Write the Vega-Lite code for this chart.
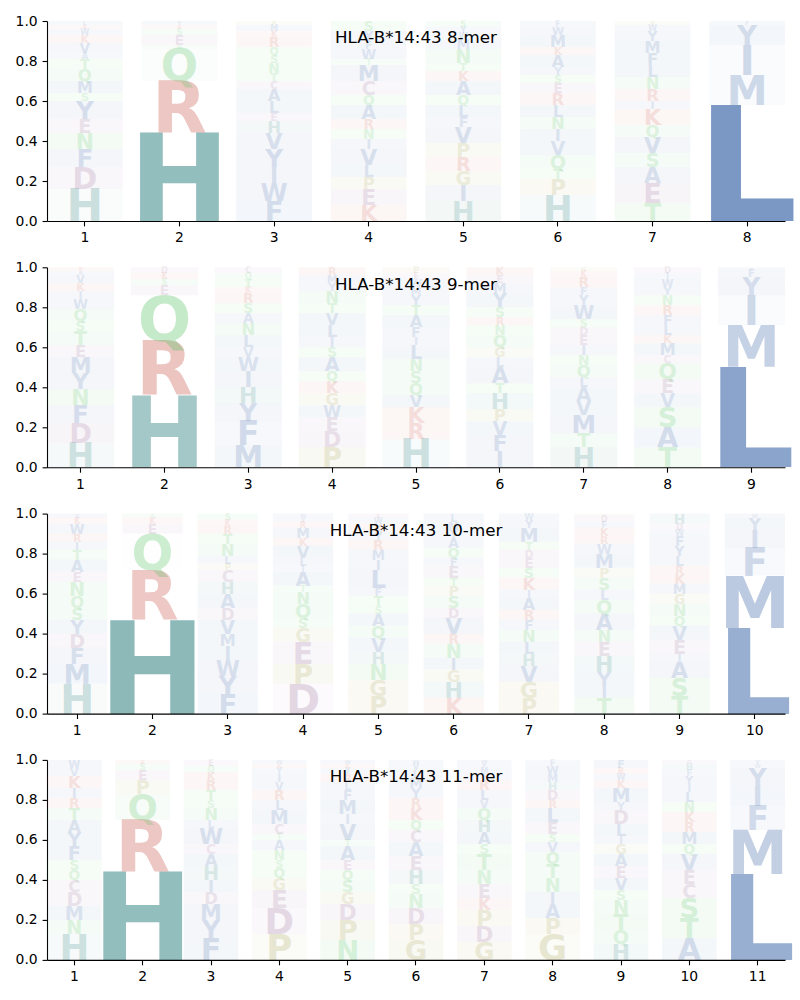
{
"$schema": "https://vega.github.io/schema/vega-lite/v6.json",
"autosize": {"type": "pad"},
"padding": {"left": 15, "top": 14, "right": 12, "bottom": 5},
"bounds": "flush",
"spacing": 46.3,
"config": {
  "view": {"stroke": null},
  "font": "DejaVu Sans",
  "title": {"fontSize": 16.7, "fontWeight": "normal", "font": "DejaVu Sans", "color": "black", "offset": -33, "anchor": "middle", "frame": "group"},
  "axis": {"domainColor": "black", "domainWidth": 1.1, "tickColor": "black", "tickWidth": 1.1, "tickSize": 4.9, "labelPadding": 4.9, "labelFontSize": 13.9, "labelFont": "DejaVu Sans", "labelColor": "black", "grid": false, "title": null}
},
"data": {"values": [
{"mer":8,"pos":1,"aa":"H","p":0.16},{"mer":8,"pos":1,"aa":"D","p":0.11},{"mer":8,"pos":1,"aa":"F","p":0.09},{"mer":8,"pos":1,"aa":"N","p":0.08},{"mer":8,"pos":1,"aa":"E","p":0.07},{"mer":8,"pos":1,"aa":"Y","p":0.09},{"mer":8,"pos":1,"aa":"S","p":0.04},{"mer":8,"pos":1,"aa":"M","p":0.06},{"mer":8,"pos":1,"aa":"Q","p":0.06},{"mer":8,"pos":1,"aa":"T","p":0.05},{"mer":8,"pos":1,"aa":"A","p":0.03},{"mer":8,"pos":1,"aa":"V","p":0.05},{"mer":8,"pos":1,"aa":"K","p":0.04},{"mer":8,"pos":1,"aa":"W","p":0.03},{"mer":8,"pos":1,"aa":"R","p":0.02},{"mer":8,"pos":1,"aa":"L","p":0.02},
{"mer":8,"pos":2,"aa":"H","p":0.44},{"mer":8,"pos":2,"aa":"R","p":0.26},{"mer":8,"pos":2,"aa":"Q","p":0.16},{"mer":8,"pos":2,"aa":"N","p":0.02},{"mer":8,"pos":2,"aa":"E","p":0.05},{"mer":8,"pos":2,"aa":"S","p":0.03},{"mer":8,"pos":2,"aa":"K","p":0.02},{"mer":8,"pos":2,"aa":"Y","p":0.02},
{"mer":8,"pos":3,"aa":"F","p":0.10},{"mer":8,"pos":3,"aa":"W","p":0.09},{"mer":8,"pos":3,"aa":"I","p":0.08},{"mer":8,"pos":3,"aa":"Y","p":0.09},{"mer":8,"pos":3,"aa":"V","p":0.08},{"mer":8,"pos":3,"aa":"H","p":0.06},{"mer":8,"pos":3,"aa":"E","p":0.04},{"mer":8,"pos":3,"aa":"L","p":0.06},{"mer":8,"pos":3,"aa":"A","p":0.06},{"mer":8,"pos":3,"aa":"C","p":0.04},{"mer":8,"pos":3,"aa":"T","p":0.04},{"mer":8,"pos":3,"aa":"N","p":0.05},{"mer":8,"pos":3,"aa":"S","p":0.04},{"mer":8,"pos":3,"aa":"Q","p":0.04},{"mer":8,"pos":3,"aa":"R","p":0.05},{"mer":8,"pos":3,"aa":"K","p":0.03},{"mer":8,"pos":3,"aa":"M","p":0.03},{"mer":8,"pos":3,"aa":"P","p":0.02},
{"mer":8,"pos":4,"aa":"K","p":0.08},{"mer":8,"pos":4,"aa":"E","p":0.08},{"mer":8,"pos":4,"aa":"P","p":0.06},{"mer":8,"pos":4,"aa":"L","p":0.06},{"mer":8,"pos":4,"aa":"V","p":0.08},{"mer":8,"pos":4,"aa":"I","p":0.05},{"mer":8,"pos":4,"aa":"N","p":0.05},{"mer":8,"pos":4,"aa":"R","p":0.05},{"mer":8,"pos":4,"aa":"A","p":0.07},{"mer":8,"pos":4,"aa":"Q","p":0.05},{"mer":8,"pos":4,"aa":"C","p":0.07},{"mer":8,"pos":4,"aa":"M","p":0.08},{"mer":8,"pos":4,"aa":"T","p":0.03},{"mer":8,"pos":4,"aa":"W","p":0.05},{"mer":8,"pos":4,"aa":"F","p":0.04},{"mer":8,"pos":4,"aa":"Y","p":0.05},{"mer":8,"pos":4,"aa":"S","p":0.05},
{"mer":8,"pos":5,"aa":"H","p":0.10},{"mer":8,"pos":5,"aa":"I","p":0.08},{"mer":8,"pos":5,"aa":"G","p":0.07},{"mer":8,"pos":5,"aa":"R","p":0.07},{"mer":8,"pos":5,"aa":"P","p":0.07},{"mer":8,"pos":5,"aa":"V","p":0.08},{"mer":8,"pos":5,"aa":"F","p":0.05},{"mer":8,"pos":5,"aa":"L","p":0.06},{"mer":8,"pos":5,"aa":"Q","p":0.05},{"mer":8,"pos":5,"aa":"A","p":0.07},{"mer":8,"pos":5,"aa":"K","p":0.05},{"mer":8,"pos":5,"aa":"T","p":0.04},{"mer":8,"pos":5,"aa":"N","p":0.07},{"mer":8,"pos":5,"aa":"M","p":0.05},{"mer":8,"pos":5,"aa":"W","p":0.03},{"mer":8,"pos":5,"aa":"Y","p":0.03},{"mer":8,"pos":5,"aa":"S","p":0.03},
{"mer":8,"pos":6,"aa":"H","p":0.13},{"mer":8,"pos":6,"aa":"P","p":0.08},{"mer":8,"pos":6,"aa":"T","p":0.05},{"mer":8,"pos":6,"aa":"Q","p":0.07},{"mer":8,"pos":6,"aa":"V","p":0.07},{"mer":8,"pos":6,"aa":"I","p":0.06},{"mer":8,"pos":6,"aa":"N","p":0.06},{"mer":8,"pos":6,"aa":"L","p":0.06},{"mer":8,"pos":6,"aa":"R","p":0.06},{"mer":8,"pos":6,"aa":"E","p":0.05},{"mer":8,"pos":6,"aa":"S","p":0.04},{"mer":8,"pos":6,"aa":"Y","p":0.04},{"mer":8,"pos":6,"aa":"A","p":0.06},{"mer":8,"pos":6,"aa":"K","p":0.04},{"mer":8,"pos":6,"aa":"M","p":0.06},{"mer":8,"pos":6,"aa":"W","p":0.04},{"mer":8,"pos":6,"aa":"F","p":0.03},
{"mer":8,"pos":7,"aa":"T","p":0.09},{"mer":8,"pos":7,"aa":"E","p":0.10},{"mer":8,"pos":7,"aa":"A","p":0.08},{"mer":8,"pos":7,"aa":"S","p":0.07},{"mer":8,"pos":7,"aa":"V","p":0.08},{"mer":8,"pos":7,"aa":"Q","p":0.06},{"mer":8,"pos":7,"aa":"K","p":0.08},{"mer":8,"pos":7,"aa":"I","p":0.04},{"mer":8,"pos":7,"aa":"R","p":0.06},{"mer":8,"pos":7,"aa":"N","p":0.06},{"mer":8,"pos":7,"aa":"L","p":0.06},{"mer":8,"pos":7,"aa":"F","p":0.06},{"mer":8,"pos":7,"aa":"M","p":0.06},{"mer":8,"pos":7,"aa":"Y","p":0.05},{"mer":8,"pos":7,"aa":"W","p":0.03},{"mer":8,"pos":7,"aa":"P","p":0.02},
{"mer":8,"pos":8,"aa":"L","p":0.58},{"mer":8,"pos":8,"aa":"M","p":0.15},{"mer":8,"pos":8,"aa":"I","p":0.15},{"mer":8,"pos":8,"aa":"Y","p":0.10},{"mer":8,"pos":8,"aa":"F","p":0.02},

{"mer":9,"pos":1,"aa":"H","p":0.12},{"mer":9,"pos":1,"aa":"D","p":0.10},{"mer":9,"pos":1,"aa":"F","p":0.09},{"mer":9,"pos":1,"aa":"N","p":0.08},{"mer":9,"pos":1,"aa":"Y","p":0.08},{"mer":9,"pos":1,"aa":"M","p":0.08},{"mer":9,"pos":1,"aa":"E","p":0.06},{"mer":9,"pos":1,"aa":"T","p":0.07},{"mer":9,"pos":1,"aa":"S","p":0.05},{"mer":9,"pos":1,"aa":"Q","p":0.06},{"mer":9,"pos":1,"aa":"W","p":0.05},{"mer":9,"pos":1,"aa":"I","p":0.04},{"mer":9,"pos":1,"aa":"K","p":0.04},{"mer":9,"pos":1,"aa":"V","p":0.04},{"mer":9,"pos":1,"aa":"A","p":0.02},{"mer":9,"pos":1,"aa":"R","p":0.02},
{"mer":9,"pos":2,"aa":"H","p":0.36},{"mer":9,"pos":2,"aa":"R","p":0.27},{"mer":9,"pos":2,"aa":"Q","p":0.23},{"mer":9,"pos":2,"aa":"E","p":0.05},{"mer":9,"pos":2,"aa":"S","p":0.03},{"mer":9,"pos":2,"aa":"K","p":0.03},{"mer":9,"pos":2,"aa":"D","p":0.03},
{"mer":9,"pos":3,"aa":"M","p":0.11},{"mer":9,"pos":3,"aa":"F","p":0.12},{"mer":9,"pos":3,"aa":"Y","p":0.09},{"mer":9,"pos":3,"aa":"H","p":0.08},{"mer":9,"pos":3,"aa":"I","p":0.08},{"mer":9,"pos":3,"aa":"W","p":0.07},{"mer":9,"pos":3,"aa":"V","p":0.05},{"mer":9,"pos":3,"aa":"L","p":0.06},{"mer":9,"pos":3,"aa":"N","p":0.06},{"mer":9,"pos":3,"aa":"A","p":0.05},{"mer":9,"pos":3,"aa":"S","p":0.05},{"mer":9,"pos":3,"aa":"R","p":0.05},{"mer":9,"pos":3,"aa":"K","p":0.03},{"mer":9,"pos":3,"aa":"T","p":0.04},{"mer":9,"pos":3,"aa":"Q","p":0.03},{"mer":9,"pos":3,"aa":"C","p":0.03},
{"mer":9,"pos":4,"aa":"P","p":0.10},{"mer":9,"pos":4,"aa":"D","p":0.08},{"mer":9,"pos":4,"aa":"E","p":0.07},{"mer":9,"pos":4,"aa":"W","p":0.06},{"mer":9,"pos":4,"aa":"G","p":0.06},{"mer":9,"pos":4,"aa":"K","p":0.06},{"mer":9,"pos":4,"aa":"Q","p":0.05},{"mer":9,"pos":4,"aa":"A","p":0.07},{"mer":9,"pos":4,"aa":"S","p":0.05},{"mer":9,"pos":4,"aa":"I","p":0.05},{"mer":9,"pos":4,"aa":"L","p":0.06},{"mer":9,"pos":4,"aa":"V","p":0.06},{"mer":9,"pos":4,"aa":"T","p":0.05},{"mer":9,"pos":4,"aa":"N","p":0.06},{"mer":9,"pos":4,"aa":"Y","p":0.04},{"mer":9,"pos":4,"aa":"M","p":0.04},{"mer":9,"pos":4,"aa":"R","p":0.04},
{"mer":9,"pos":5,"aa":"H","p":0.14},{"mer":9,"pos":5,"aa":"R","p":0.08},{"mer":9,"pos":5,"aa":"K","p":0.08},{"mer":9,"pos":5,"aa":"V","p":0.06},{"mer":9,"pos":5,"aa":"Q","p":0.06},{"mer":9,"pos":5,"aa":"S","p":0.06},{"mer":9,"pos":5,"aa":"N","p":0.06},{"mer":9,"pos":5,"aa":"L","p":0.07},{"mer":9,"pos":5,"aa":"I","p":0.04},{"mer":9,"pos":5,"aa":"F","p":0.05},{"mer":9,"pos":5,"aa":"A","p":0.06},{"mer":9,"pos":5,"aa":"T","p":0.05},{"mer":9,"pos":5,"aa":"Y","p":0.05},{"mer":9,"pos":5,"aa":"M","p":0.04},{"mer":9,"pos":5,"aa":"W","p":0.04},{"mer":9,"pos":5,"aa":"E","p":0.03},{"mer":9,"pos":5,"aa":"P","p":0.03},
{"mer":9,"pos":6,"aa":"I","p":0.08},{"mer":9,"pos":6,"aa":"F","p":0.08},{"mer":9,"pos":6,"aa":"V","p":0.07},{"mer":9,"pos":6,"aa":"P","p":0.06},{"mer":9,"pos":6,"aa":"H","p":0.08},{"mer":9,"pos":6,"aa":"T","p":0.05},{"mer":9,"pos":6,"aa":"A","p":0.08},{"mer":9,"pos":6,"aa":"L","p":0.05},{"mer":9,"pos":6,"aa":"G","p":0.05},{"mer":9,"pos":6,"aa":"Q","p":0.06},{"mer":9,"pos":6,"aa":"N","p":0.05},{"mer":9,"pos":6,"aa":"R","p":0.04},{"mer":9,"pos":6,"aa":"S","p":0.05},{"mer":9,"pos":6,"aa":"Y","p":0.07},{"mer":9,"pos":6,"aa":"M","p":0.05},{"mer":9,"pos":6,"aa":"E","p":0.04},{"mer":9,"pos":6,"aa":"K","p":0.04},
{"mer":9,"pos":7,"aa":"H","p":0.10},{"mer":9,"pos":7,"aa":"T","p":0.07},{"mer":9,"pos":7,"aa":"M","p":0.09},{"mer":9,"pos":7,"aa":"V","p":0.07},{"mer":9,"pos":7,"aa":"A","p":0.07},{"mer":9,"pos":7,"aa":"L","p":0.05},{"mer":9,"pos":7,"aa":"Q","p":0.06},{"mer":9,"pos":7,"aa":"N","p":0.05},{"mer":9,"pos":7,"aa":"I","p":0.05},{"mer":9,"pos":7,"aa":"E","p":0.05},{"mer":9,"pos":7,"aa":"D","p":0.04},{"mer":9,"pos":7,"aa":"S","p":0.04},{"mer":9,"pos":7,"aa":"W","p":0.07},{"mer":9,"pos":7,"aa":"Y","p":0.05},{"mer":9,"pos":7,"aa":"F","p":0.04},{"mer":9,"pos":7,"aa":"R","p":0.05},{"mer":9,"pos":7,"aa":"K","p":0.03},{"mer":9,"pos":7,"aa":"G","p":0.02},
{"mer":9,"pos":8,"aa":"T","p":0.10},{"mer":9,"pos":8,"aa":"A","p":0.10},{"mer":9,"pos":8,"aa":"S","p":0.10},{"mer":9,"pos":8,"aa":"V","p":0.07},{"mer":9,"pos":8,"aa":"E","p":0.07},{"mer":9,"pos":8,"aa":"Q","p":0.08},{"mer":9,"pos":8,"aa":"C","p":0.04},{"mer":9,"pos":8,"aa":"M","p":0.06},{"mer":9,"pos":8,"aa":"K","p":0.04},{"mer":9,"pos":8,"aa":"L","p":0.05},{"mer":9,"pos":8,"aa":"F","p":0.05},{"mer":9,"pos":8,"aa":"R","p":0.05},{"mer":9,"pos":8,"aa":"N","p":0.05},{"mer":9,"pos":8,"aa":"Y","p":0.04},{"mer":9,"pos":8,"aa":"W","p":0.04},{"mer":9,"pos":8,"aa":"I","p":0.03},{"mer":9,"pos":8,"aa":"D","p":0.03},
{"mer":9,"pos":9,"aa":"L","p":0.50},{"mer":9,"pos":9,"aa":"M","p":0.21},{"mer":9,"pos":9,"aa":"I","p":0.15},{"mer":9,"pos":9,"aa":"Y","p":0.09},{"mer":9,"pos":9,"aa":"F","p":0.04},{"mer":9,"pos":9,"aa":"W","p":0.01},

{"mer":10,"pos":1,"aa":"H","p":0.15},{"mer":10,"pos":1,"aa":"M","p":0.10},{"mer":10,"pos":1,"aa":"F","p":0.08},{"mer":10,"pos":1,"aa":"D","p":0.07},{"mer":10,"pos":1,"aa":"Y","p":0.07},{"mer":10,"pos":1,"aa":"S","p":0.06},{"mer":10,"pos":1,"aa":"Q","p":0.06},{"mer":10,"pos":1,"aa":"N","p":0.07},{"mer":10,"pos":1,"aa":"E","p":0.05},{"mer":10,"pos":1,"aa":"A","p":0.06},{"mer":10,"pos":1,"aa":"T","p":0.05},{"mer":10,"pos":1,"aa":"I","p":0.04},{"mer":10,"pos":1,"aa":"R","p":0.04},{"mer":10,"pos":1,"aa":"W","p":0.05},{"mer":10,"pos":1,"aa":"K","p":0.03},{"mer":10,"pos":1,"aa":"V","p":0.02},
{"mer":10,"pos":2,"aa":"H","p":0.47},{"mer":10,"pos":2,"aa":"R","p":0.25},{"mer":10,"pos":2,"aa":"Q","p":0.18},{"mer":10,"pos":2,"aa":"E","p":0.05},{"mer":10,"pos":2,"aa":"K","p":0.03},{"mer":10,"pos":2,"aa":"S","p":0.02},
{"mer":10,"pos":3,"aa":"F","p":0.10},{"mer":10,"pos":3,"aa":"Y","p":0.09},{"mer":10,"pos":3,"aa":"W","p":0.08},{"mer":10,"pos":3,"aa":"I","p":0.07},{"mer":10,"pos":3,"aa":"M","p":0.06},{"mer":10,"pos":3,"aa":"V","p":0.07},{"mer":10,"pos":3,"aa":"D","p":0.06},{"mer":10,"pos":3,"aa":"A","p":0.07},{"mer":10,"pos":3,"aa":"H","p":0.06},{"mer":10,"pos":3,"aa":"C","p":0.06},{"mer":10,"pos":3,"aa":"P","p":0.03},{"mer":10,"pos":3,"aa":"L","p":0.04},{"mer":10,"pos":3,"aa":"N","p":0.06},{"mer":10,"pos":3,"aa":"T","p":0.05},{"mer":10,"pos":3,"aa":"R","p":0.04},{"mer":10,"pos":3,"aa":"K","p":0.03},{"mer":10,"pos":3,"aa":"S","p":0.03},
{"mer":10,"pos":4,"aa":"D","p":0.15},{"mer":10,"pos":4,"aa":"P","p":0.10},{"mer":10,"pos":4,"aa":"E","p":0.11},{"mer":10,"pos":4,"aa":"G","p":0.07},{"mer":10,"pos":4,"aa":"S","p":0.05},{"mer":10,"pos":4,"aa":"Q","p":0.07},{"mer":10,"pos":4,"aa":"N","p":0.06},{"mer":10,"pos":4,"aa":"T","p":0.03},{"mer":10,"pos":4,"aa":"A","p":0.07},{"mer":10,"pos":4,"aa":"I","p":0.03},{"mer":10,"pos":4,"aa":"L","p":0.04},{"mer":10,"pos":4,"aa":"V","p":0.06},{"mer":10,"pos":4,"aa":"K","p":0.04},{"mer":10,"pos":4,"aa":"M","p":0.05},{"mer":10,"pos":4,"aa":"R","p":0.03},{"mer":10,"pos":4,"aa":"Y","p":0.02},{"mer":10,"pos":4,"aa":"W","p":0.02},
{"mer":10,"pos":5,"aa":"P","p":0.09},{"mer":10,"pos":5,"aa":"G","p":0.08},{"mer":10,"pos":5,"aa":"N","p":0.08},{"mer":10,"pos":5,"aa":"H","p":0.06},{"mer":10,"pos":5,"aa":"V","p":0.07},{"mer":10,"pos":5,"aa":"Q","p":0.06},{"mer":10,"pos":5,"aa":"A","p":0.06},{"mer":10,"pos":5,"aa":"S","p":0.04},{"mer":10,"pos":5,"aa":"T","p":0.05},{"mer":10,"pos":5,"aa":"F","p":0.04},{"mer":10,"pos":5,"aa":"L","p":0.09},{"mer":10,"pos":5,"aa":"I","p":0.05},{"mer":10,"pos":5,"aa":"M","p":0.05},{"mer":10,"pos":5,"aa":"R","p":0.05},{"mer":10,"pos":5,"aa":"Y","p":0.04},{"mer":10,"pos":5,"aa":"K","p":0.04},{"mer":10,"pos":5,"aa":"W","p":0.03},{"mer":10,"pos":5,"aa":"E","p":0.02},
{"mer":10,"pos":6,"aa":"K","p":0.08},{"mer":10,"pos":6,"aa":"H","p":0.08},{"mer":10,"pos":6,"aa":"G","p":0.06},{"mer":10,"pos":6,"aa":"I","p":0.06},{"mer":10,"pos":6,"aa":"N","p":0.07},{"mer":10,"pos":6,"aa":"R","p":0.05},{"mer":10,"pos":6,"aa":"V","p":0.08},{"mer":10,"pos":6,"aa":"D","p":0.05},{"mer":10,"pos":6,"aa":"S","p":0.06},{"mer":10,"pos":6,"aa":"P","p":0.05},{"mer":10,"pos":6,"aa":"T","p":0.04},{"mer":10,"pos":6,"aa":"E","p":0.06},{"mer":10,"pos":6,"aa":"F","p":0.04},{"mer":10,"pos":6,"aa":"Q","p":0.05},{"mer":10,"pos":6,"aa":"A","p":0.05},{"mer":10,"pos":6,"aa":"Y","p":0.04},{"mer":10,"pos":6,"aa":"M","p":0.04},{"mer":10,"pos":6,"aa":"L","p":0.04},
{"mer":10,"pos":7,"aa":"P","p":0.08},{"mer":10,"pos":7,"aa":"G","p":0.08},{"mer":10,"pos":7,"aa":"V","p":0.08},{"mer":10,"pos":7,"aa":"H","p":0.06},{"mer":10,"pos":7,"aa":"L","p":0.06},{"mer":10,"pos":7,"aa":"N","p":0.06},{"mer":10,"pos":7,"aa":"F","p":0.05},{"mer":10,"pos":7,"aa":"R","p":0.05},{"mer":10,"pos":7,"aa":"A","p":0.06},{"mer":10,"pos":7,"aa":"I","p":0.04},{"mer":10,"pos":7,"aa":"K","p":0.06},{"mer":10,"pos":7,"aa":"S","p":0.05},{"mer":10,"pos":7,"aa":"E","p":0.05},{"mer":10,"pos":7,"aa":"D","p":0.04},{"mer":10,"pos":7,"aa":"T","p":0.04},{"mer":10,"pos":7,"aa":"M","p":0.07},{"mer":10,"pos":7,"aa":"Y","p":0.04},{"mer":10,"pos":7,"aa":"W","p":0.03},
{"mer":10,"pos":8,"aa":"T","p":0.08},{"mer":10,"pos":8,"aa":"I","p":0.06},{"mer":10,"pos":8,"aa":"Y","p":0.07},{"mer":10,"pos":8,"aa":"H","p":0.08},{"mer":10,"pos":8,"aa":"E","p":0.07},{"mer":10,"pos":8,"aa":"N","p":0.06},{"mer":10,"pos":8,"aa":"A","p":0.08},{"mer":10,"pos":8,"aa":"Q","p":0.07},{"mer":10,"pos":8,"aa":"L","p":0.05},{"mer":10,"pos":8,"aa":"S","p":0.06},{"mer":10,"pos":8,"aa":"P","p":0.05},{"mer":10,"pos":8,"aa":"M","p":0.07},{"mer":10,"pos":8,"aa":"W","p":0.05},{"mer":10,"pos":8,"aa":"R","p":0.04},{"mer":10,"pos":8,"aa":"K","p":0.04},{"mer":10,"pos":8,"aa":"F","p":0.03},{"mer":10,"pos":8,"aa":"D","p":0.03},{"mer":10,"pos":8,"aa":"G","p":0.01},
{"mer":10,"pos":9,"aa":"T","p":0.09},{"mer":10,"pos":9,"aa":"S","p":0.09},{"mer":10,"pos":9,"aa":"A","p":0.08},{"mer":10,"pos":9,"aa":"I","p":0.04},{"mer":10,"pos":9,"aa":"E","p":0.07},{"mer":10,"pos":9,"aa":"V","p":0.07},{"mer":10,"pos":9,"aa":"Q","p":0.05},{"mer":10,"pos":9,"aa":"N","p":0.06},{"mer":10,"pos":9,"aa":"G","p":0.05},{"mer":10,"pos":9,"aa":"M","p":0.05},{"mer":10,"pos":9,"aa":"K","p":0.05},{"mer":10,"pos":9,"aa":"R","p":0.04},{"mer":10,"pos":9,"aa":"L","p":0.05},{"mer":10,"pos":9,"aa":"Y","p":0.05},{"mer":10,"pos":9,"aa":"F","p":0.05},{"mer":10,"pos":9,"aa":"W","p":0.03},{"mer":10,"pos":9,"aa":"D","p":0.03},{"mer":10,"pos":9,"aa":"H","p":0.05},
{"mer":10,"pos":10,"aa":"L","p":0.43},{"mer":10,"pos":10,"aa":"M","p":0.26},{"mer":10,"pos":10,"aa":"F","p":0.14},{"mer":10,"pos":10,"aa":"I","p":0.09},{"mer":10,"pos":10,"aa":"Y","p":0.06},{"mer":10,"pos":10,"aa":"W","p":0.02},

{"mer":11,"pos":1,"aa":"H","p":0.13},{"mer":11,"pos":1,"aa":"N","p":0.07},{"mer":11,"pos":1,"aa":"M","p":0.07},{"mer":11,"pos":1,"aa":"D","p":0.07},{"mer":11,"pos":1,"aa":"C","p":0.06},{"mer":11,"pos":1,"aa":"Q","p":0.05},{"mer":11,"pos":1,"aa":"S","p":0.05},{"mer":11,"pos":1,"aa":"F","p":0.07},{"mer":11,"pos":1,"aa":"Y","p":0.07},{"mer":11,"pos":1,"aa":"A","p":0.06},{"mer":11,"pos":1,"aa":"T","p":0.06},{"mer":11,"pos":1,"aa":"R","p":0.05},{"mer":11,"pos":1,"aa":"I","p":0.05},{"mer":11,"pos":1,"aa":"K","p":0.06},{"mer":11,"pos":1,"aa":"V","p":0.04},{"mer":11,"pos":1,"aa":"W","p":0.04},
{"mer":11,"pos":2,"aa":"H","p":0.44},{"mer":11,"pos":2,"aa":"R","p":0.26},{"mer":11,"pos":2,"aa":"Q","p":0.13},{"mer":11,"pos":2,"aa":"P","p":0.07},{"mer":11,"pos":2,"aa":"E","p":0.05},{"mer":11,"pos":2,"aa":"S","p":0.03},{"mer":11,"pos":2,"aa":"K","p":0.02},
{"mer":11,"pos":3,"aa":"F","p":0.11},{"mer":11,"pos":3,"aa":"Y","p":0.09},{"mer":11,"pos":3,"aa":"M","p":0.08},{"mer":11,"pos":3,"aa":"D","p":0.06},{"mer":11,"pos":3,"aa":"I","p":0.06},{"mer":11,"pos":3,"aa":"H","p":0.07},{"mer":11,"pos":3,"aa":"A","p":0.06},{"mer":11,"pos":3,"aa":"C","p":0.05},{"mer":11,"pos":3,"aa":"W","p":0.08},{"mer":11,"pos":3,"aa":"L","p":0.04},{"mer":11,"pos":3,"aa":"N","p":0.06},{"mer":11,"pos":3,"aa":"S","p":0.04},{"mer":11,"pos":3,"aa":"T","p":0.05},{"mer":11,"pos":3,"aa":"R","p":0.05},{"mer":11,"pos":3,"aa":"K","p":0.04},{"mer":11,"pos":3,"aa":"Q","p":0.03},{"mer":11,"pos":3,"aa":"E","p":0.03},
{"mer":11,"pos":4,"aa":"P","p":0.13},{"mer":11,"pos":4,"aa":"D","p":0.13},{"mer":11,"pos":4,"aa":"E","p":0.09},{"mer":11,"pos":4,"aa":"G","p":0.06},{"mer":11,"pos":4,"aa":"Q","p":0.05},{"mer":11,"pos":4,"aa":"S","p":0.04},{"mer":11,"pos":4,"aa":"N","p":0.05},{"mer":11,"pos":4,"aa":"A","p":0.05},{"mer":11,"pos":4,"aa":"T","p":0.03},{"mer":11,"pos":4,"aa":"C","p":0.05},{"mer":11,"pos":4,"aa":"M","p":0.07},{"mer":11,"pos":4,"aa":"L","p":0.05},{"mer":11,"pos":4,"aa":"R","p":0.05},{"mer":11,"pos":4,"aa":"V","p":0.04},{"mer":11,"pos":4,"aa":"I","p":0.04},{"mer":11,"pos":4,"aa":"Y","p":0.03},{"mer":11,"pos":4,"aa":"K","p":0.02},{"mer":11,"pos":4,"aa":"W","p":0.02},
{"mer":11,"pos":5,"aa":"N","p":0.10},{"mer":11,"pos":5,"aa":"P","p":0.10},{"mer":11,"pos":5,"aa":"D","p":0.08},{"mer":11,"pos":5,"aa":"G","p":0.06},{"mer":11,"pos":5,"aa":"S","p":0.06},{"mer":11,"pos":5,"aa":"Q","p":0.05},{"mer":11,"pos":5,"aa":"E","p":0.05},{"mer":11,"pos":5,"aa":"A","p":0.07},{"mer":11,"pos":5,"aa":"T","p":0.03},{"mer":11,"pos":5,"aa":"V","p":0.08},{"mer":11,"pos":5,"aa":"I","p":0.05},{"mer":11,"pos":5,"aa":"M","p":0.07},{"mer":11,"pos":5,"aa":"F","p":0.05},{"mer":11,"pos":5,"aa":"L","p":0.04},{"mer":11,"pos":5,"aa":"R","p":0.04},{"mer":11,"pos":5,"aa":"Y","p":0.03},{"mer":11,"pos":5,"aa":"K","p":0.02},{"mer":11,"pos":5,"aa":"W","p":0.02},
{"mer":11,"pos":6,"aa":"G","p":0.10},{"mer":11,"pos":6,"aa":"P","p":0.08},{"mer":11,"pos":6,"aa":"D","p":0.08},{"mer":11,"pos":6,"aa":"N","p":0.07},{"mer":11,"pos":6,"aa":"S","p":0.05},{"mer":11,"pos":6,"aa":"H","p":0.07},{"mer":11,"pos":6,"aa":"E","p":0.07},{"mer":11,"pos":6,"aa":"A","p":0.07},{"mer":11,"pos":6,"aa":"C","p":0.06},{"mer":11,"pos":6,"aa":"Q","p":0.05},{"mer":11,"pos":6,"aa":"K","p":0.06},{"mer":11,"pos":6,"aa":"R","p":0.05},{"mer":11,"pos":6,"aa":"Y","p":0.05},{"mer":11,"pos":6,"aa":"M","p":0.05},{"mer":11,"pos":6,"aa":"L","p":0.04},{"mer":11,"pos":6,"aa":"V","p":0.03},{"mer":11,"pos":6,"aa":"W","p":0.02},
{"mer":11,"pos":7,"aa":"G","p":0.09},{"mer":11,"pos":7,"aa":"D","p":0.08},{"mer":11,"pos":7,"aa":"P","p":0.08},{"mer":11,"pos":7,"aa":"K","p":0.06},{"mer":11,"pos":7,"aa":"E","p":0.07},{"mer":11,"pos":7,"aa":"N","p":0.07},{"mer":11,"pos":7,"aa":"T","p":0.08},{"mer":11,"pos":7,"aa":"S","p":0.05},{"mer":11,"pos":7,"aa":"A","p":0.06},{"mer":11,"pos":7,"aa":"H","p":0.06},{"mer":11,"pos":7,"aa":"Q","p":0.06},{"mer":11,"pos":7,"aa":"V","p":0.04},{"mer":11,"pos":7,"aa":"L","p":0.05},{"mer":11,"pos":7,"aa":"R","p":0.05},{"mer":11,"pos":7,"aa":"I","p":0.03},{"mer":11,"pos":7,"aa":"M","p":0.03},{"mer":11,"pos":7,"aa":"F","p":0.02},{"mer":11,"pos":7,"aa":"W","p":0.02},
{"mer":11,"pos":8,"aa":"G","p":0.13},{"mer":11,"pos":8,"aa":"P","p":0.08},{"mer":11,"pos":8,"aa":"A","p":0.07},{"mer":11,"pos":8,"aa":"I","p":0.06},{"mer":11,"pos":8,"aa":"N","p":0.07},{"mer":11,"pos":8,"aa":"T","p":0.07},{"mer":11,"pos":8,"aa":"Q","p":0.06},{"mer":11,"pos":8,"aa":"V","p":0.05},{"mer":11,"pos":8,"aa":"S","p":0.04},{"mer":11,"pos":8,"aa":"E","p":0.06},{"mer":11,"pos":8,"aa":"L","p":0.07},{"mer":11,"pos":8,"aa":"R","p":0.04},{"mer":11,"pos":8,"aa":"D","p":0.05},{"mer":11,"pos":8,"aa":"H","p":0.04},{"mer":11,"pos":8,"aa":"M","p":0.04},{"mer":11,"pos":8,"aa":"W","p":0.04},{"mer":11,"pos":8,"aa":"F","p":0.03},
{"mer":11,"pos":9,"aa":"H","p":0.08},{"mer":11,"pos":9,"aa":"Q","p":0.07},{"mer":11,"pos":9,"aa":"T","p":0.08},{"mer":11,"pos":9,"aa":"N","p":0.07},{"mer":11,"pos":9,"aa":"S","p":0.05},{"mer":11,"pos":9,"aa":"V","p":0.06},{"mer":11,"pos":9,"aa":"E","p":0.06},{"mer":11,"pos":9,"aa":"A","p":0.06},{"mer":11,"pos":9,"aa":"G","p":0.05},{"mer":11,"pos":9,"aa":"I","p":0.04},{"mer":11,"pos":9,"aa":"L","p":0.06},{"mer":11,"pos":9,"aa":"D","p":0.07},{"mer":11,"pos":9,"aa":"Y","p":0.04},{"mer":11,"pos":9,"aa":"M","p":0.07},{"mer":11,"pos":9,"aa":"K","p":0.04},{"mer":11,"pos":9,"aa":"W","p":0.03},{"mer":11,"pos":9,"aa":"R","p":0.03},{"mer":11,"pos":9,"aa":"F","p":0.04},
{"mer":11,"pos":10,"aa":"A","p":0.11},{"mer":11,"pos":10,"aa":"T","p":0.10},{"mer":11,"pos":10,"aa":"S","p":0.10},{"mer":11,"pos":10,"aa":"C","p":0.07},{"mer":11,"pos":10,"aa":"E","p":0.07},{"mer":11,"pos":10,"aa":"V","p":0.08},{"mer":11,"pos":10,"aa":"Q","p":0.05},{"mer":11,"pos":10,"aa":"M","p":0.06},{"mer":11,"pos":10,"aa":"R","p":0.05},{"mer":11,"pos":10,"aa":"K","p":0.05},{"mer":11,"pos":10,"aa":"N","p":0.05},{"mer":11,"pos":10,"aa":"L","p":0.05},{"mer":11,"pos":10,"aa":"I","p":0.04},{"mer":11,"pos":10,"aa":"Y","p":0.04},{"mer":11,"pos":10,"aa":"F","p":0.03},{"mer":11,"pos":10,"aa":"H","p":0.03},{"mer":11,"pos":10,"aa":"D","p":0.02},
{"mer":11,"pos":11,"aa":"L","p":0.43},{"mer":11,"pos":11,"aa":"M","p":0.22},{"mer":11,"pos":11,"aa":"F","p":0.12},{"mer":11,"pos":11,"aa":"I","p":0.10},{"mer":11,"pos":11,"aa":"Y","p":0.09},{"mer":11,"pos":11,"aa":"W","p":0.02},{"mer":11,"pos":11,"aa":"V","p":0.02}
]},
"vconcat": [
{
 "width": 738, "height": 200,
 "title": {"text": "HLA-B*14:43 8-mer"},
 "transform": [{"filter": "datum.mer == 8"}, {"stack": "p", "groupby": ["pos"], "as": ["y0", "y1"]}],
 "encoding": {
  "x": {"field": "pos", "type": "ordinal", "scale": {"paddingInner": 0.2, "paddingOuter": 0}, "axis": {"labelAngle": 0}},
  "y": {"field": "y0", "type": "quantitative", "scale": {"domain": [0, 1], "nice": false}, "axis": {"values": [0, 0.2, 0.4, 0.6, 0.8, 1], "format": ".1f"}},
  "color": {"field": "aa", "type": "nominal", "legend": null, "scale": {"domain": ["A","C","D","E","F","G","H","I","K","L","M","N","P","Q","R","S","T","V","W","Y"], "range": ["#4c72b0","#9b6f9b","#9b6f9b","#9b6f9b","#4c72b0","#a8a455","#448f8d","#4c72b0","#ce6a60","#4c72b0","#4c72b0","#57c363","#a8a455","#57c363","#ce6a60","#57c363","#57c363","#4c72b0","#4c72b0","#4c72b0"]}}
 },
 "layer": [
  {"mark": {"type": "rect"}, "encoding": {"y2": {"field": "y1"}, "fillOpacity": {"field": "p", "type": "quantitative", "legend": null, "scale": {"domain": [0, 0.1, 0.2], "range": [0.045, 0.065, 0], "clamp": true, "zero": false}}}},
  {"mark": {"type": "text", "baseline": "alphabetic", "align": "center", "font": "DejaVu Sans", "fontWeight": "bold"}, "encoding": {"text": {"field": "aa"}, "size": {"field": "p", "type": "quantitative", "legend": null, "scale": {"domain": [0, 1], "range": [0, 274]}}, "opacity": {"field": "p", "type": "quantitative", "legend": null, "scale": {"domain": [0, 0.6], "range": [0.08, 0.755], "zero": false}}}}
 ]
},
{
 "width": 738, "height": 200,
 "title": {"text": "HLA-B*14:43 9-mer"},
 "transform": [{"filter": "datum.mer == 9"}, {"stack": "p", "groupby": ["pos"], "as": ["y0", "y1"]}],
 "encoding": {
  "x": {"field": "pos", "type": "ordinal", "scale": {"paddingInner": 0.2, "paddingOuter": 0}, "axis": {"labelAngle": 0}},
  "y": {"field": "y0", "type": "quantitative", "scale": {"domain": [0, 1], "nice": false}, "axis": {"values": [0, 0.2, 0.4, 0.6, 0.8, 1], "format": ".1f"}},
  "color": {"field": "aa", "type": "nominal", "legend": null, "scale": {"domain": ["A","C","D","E","F","G","H","I","K","L","M","N","P","Q","R","S","T","V","W","Y"], "range": ["#4c72b0","#9b6f9b","#9b6f9b","#9b6f9b","#4c72b0","#a8a455","#448f8d","#4c72b0","#ce6a60","#4c72b0","#4c72b0","#57c363","#a8a455","#57c363","#ce6a60","#57c363","#57c363","#4c72b0","#4c72b0","#4c72b0"]}}
 },
 "layer": [
  {"mark": {"type": "rect"}, "encoding": {"y2": {"field": "y1"}, "fillOpacity": {"field": "p", "type": "quantitative", "legend": null, "scale": {"domain": [0, 0.1, 0.2], "range": [0.045, 0.065, 0], "clamp": true, "zero": false}}}},
  {"mark": {"type": "text", "baseline": "alphabetic", "align": "center", "font": "DejaVu Sans", "fontWeight": "bold"}, "encoding": {"text": {"field": "aa"}, "size": {"field": "p", "type": "quantitative", "legend": null, "scale": {"domain": [0, 1], "range": [0, 274]}}, "opacity": {"field": "p", "type": "quantitative", "legend": null, "scale": {"domain": [0, 0.6], "range": [0.08, 0.755], "zero": false}}}}
 ]
},
{
 "width": 738, "height": 200,
 "title": {"text": "HLA-B*14:43 10-mer"},
 "transform": [{"filter": "datum.mer == 10"}, {"stack": "p", "groupby": ["pos"], "as": ["y0", "y1"]}],
 "encoding": {
  "x": {"field": "pos", "type": "ordinal", "scale": {"paddingInner": 0.2, "paddingOuter": 0}, "axis": {"labelAngle": 0}},
  "y": {"field": "y0", "type": "quantitative", "scale": {"domain": [0, 1], "nice": false}, "axis": {"values": [0, 0.2, 0.4, 0.6, 0.8, 1], "format": ".1f"}},
  "color": {"field": "aa", "type": "nominal", "legend": null, "scale": {"domain": ["A","C","D","E","F","G","H","I","K","L","M","N","P","Q","R","S","T","V","W","Y"], "range": ["#4c72b0","#9b6f9b","#9b6f9b","#9b6f9b","#4c72b0","#a8a455","#448f8d","#4c72b0","#ce6a60","#4c72b0","#4c72b0","#57c363","#a8a455","#57c363","#ce6a60","#57c363","#57c363","#4c72b0","#4c72b0","#4c72b0"]}}
 },
 "layer": [
  {"mark": {"type": "rect"}, "encoding": {"y2": {"field": "y1"}, "fillOpacity": {"field": "p", "type": "quantitative", "legend": null, "scale": {"domain": [0, 0.1, 0.2], "range": [0.045, 0.065, 0], "clamp": true, "zero": false}}}},
  {"mark": {"type": "text", "baseline": "alphabetic", "align": "center", "font": "DejaVu Sans", "fontWeight": "bold"}, "encoding": {"text": {"field": "aa"}, "size": {"field": "p", "type": "quantitative", "legend": null, "scale": {"domain": [0, 1], "range": [0, 274]}}, "opacity": {"field": "p", "type": "quantitative", "legend": null, "scale": {"domain": [0, 0.6], "range": [0.08, 0.755], "zero": false}}}}
 ]
},
{
 "width": 738, "height": 200,
 "title": {"text": "HLA-B*14:43 11-mer"},
 "transform": [{"filter": "datum.mer == 11"}, {"stack": "p", "groupby": ["pos"], "as": ["y0", "y1"]}],
 "encoding": {
  "x": {"field": "pos", "type": "ordinal", "scale": {"paddingInner": 0.2, "paddingOuter": 0}, "axis": {"labelAngle": 0}},
  "y": {"field": "y0", "type": "quantitative", "scale": {"domain": [0, 1], "nice": false}, "axis": {"values": [0, 0.2, 0.4, 0.6, 0.8, 1], "format": ".1f"}},
  "color": {"field": "aa", "type": "nominal", "legend": null, "scale": {"domain": ["A","C","D","E","F","G","H","I","K","L","M","N","P","Q","R","S","T","V","W","Y"], "range": ["#4c72b0","#9b6f9b","#9b6f9b","#9b6f9b","#4c72b0","#a8a455","#448f8d","#4c72b0","#ce6a60","#4c72b0","#4c72b0","#57c363","#a8a455","#57c363","#ce6a60","#57c363","#57c363","#4c72b0","#4c72b0","#4c72b0"]}}
 },
 "layer": [
  {"mark": {"type": "rect"}, "encoding": {"y2": {"field": "y1"}, "fillOpacity": {"field": "p", "type": "quantitative", "legend": null, "scale": {"domain": [0, 0.1, 0.2], "range": [0.045, 0.065, 0], "clamp": true, "zero": false}}}},
  {"mark": {"type": "text", "baseline": "alphabetic", "align": "center", "font": "DejaVu Sans", "fontWeight": "bold"}, "encoding": {"text": {"field": "aa"}, "size": {"field": "p", "type": "quantitative", "legend": null, "scale": {"domain": [0, 1], "range": [0, 274]}}, "opacity": {"field": "p", "type": "quantitative", "legend": null, "scale": {"domain": [0, 0.6], "range": [0.08, 0.755], "zero": false}}}}
 ]
}
]
}
